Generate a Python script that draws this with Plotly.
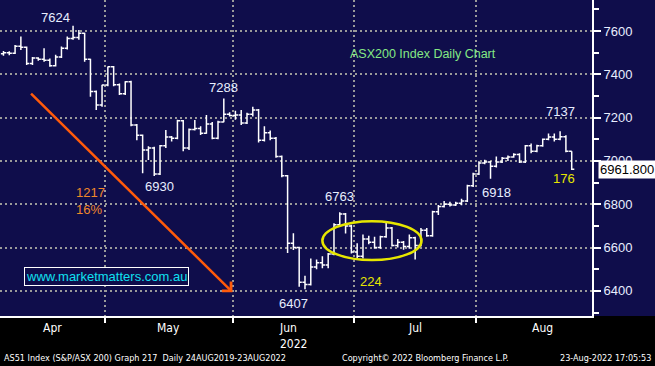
import pandas as pd
import plotly.graph_objects as go

# ---------------- data ----------------
holidays = ["2022-04-15", "2022-04-18", "2022-04-25", "2022-06-13"]
dates = [d for d in pd.bdate_range("2022-04-01", "2022-08-23") if d.strftime("%Y-%m-%d") not in holidays]

open_ = [7495, 7500, 7497, 7530, 7525, 7450, 7475, 7470, 7465, 7440,
         7480, 7520, 7565, 7570, 7589, 7469, 7320, 7258, 7350, 7435,
         7352, 7310, 7365, 7166, 7119, 7050, 7060, 6940, 7070, 7110,
         7105, 7185, 7060, 7145, 7150, 7128, 7170, 7105, 7180, 7215,
         7210, 7212, 7175, 7215, 7235, 7095, 7130, 7105, 7020, 6932,
         6620, 6600, 6440, 6430, 6510, 6530, 6520, 6570, 6705, 6755,
         6700, 6580, 6560, 6640, 6625, 6600, 6650, 6690, 6610, 6625,
         6605, 6645, 6610, 6680, 6655, 6765, 6790, 6800, 6797, 6805,
         6815, 6885, 6940, 6990, 6995, 6975, 6995, 7012, 7018, 7030,
         6995, 7070, 7045, 7070, 7100, 7110, 7100, 7112, 7045]
high = [7508, 7506, 7535, 7574, 7528, 7480, 7479, 7520, 7473, 7490,
        7528, 7574, 7624, 7605, 7592, 7472, 7325, 7352, 7436, 7438,
        7358, 7368, 7370, 7170, 7122, 7068, 7065, 7073, 7143, 7115,
        7190, 7189, 7150, 7189, 7160, 7212, 7180, 7185, 7288, 7225,
        7232, 7235, 7222, 7250, 7240, 7160, 7140, 7110, 7025, 6935,
        6666, 6604, 6470, 6550, 6545, 6560, 6575, 6712, 6763, 6760,
        6705, 6620, 6660, 6655, 6650, 6655, 6715, 6695, 6640, 6630,
        6660, 6650, 6690, 6690, 6770, 6796, 6815, 6812, 6812, 6825,
        6890, 6945, 6998, 7005, 7000, 7020, 7018, 7025, 7035, 7035,
        7073, 7080, 7075, 7104, 7127, 7127, 7137, 7118, 7045]
low = [7486, 7488, 7494, 7512, 7443, 7443, 7462, 7458, 7435, 7436,
       7475, 7515, 7560, 7560, 7458, 7296, 7235, 7250, 7345, 7345,
       7304, 7304, 7160, 7095, 6943, 7004, 6930, 6935, 7060, 7090,
       7100, 7045, 7050, 7140, 7120, 7125, 7100, 7100, 7178, 7205,
       7190, 7166, 7170, 7205, 7085, 7090, 7095, 7015, 6925, 6575,
       6589, 6419, 6407, 6425, 6500, 6505, 6505, 6565, 6700, 6665,
       6573, 6545, 6550, 6615, 6595, 6595, 6645, 6605, 6600, 6590,
       6595, 6545, 6605, 6650, 6650, 6750, 6785, 6790, 6792, 6795,
       6810, 6880, 6935, 6985, 6918, 6970, 6990, 7000, 7015, 6990,
       6990, 7035, 7040, 7065, 7095, 7090, 7095, 7040, 6958]
close = [7500, 7497, 7530, 7525, 7450, 7475, 7470, 7465, 7440, 7480,
         7520, 7565, 7570, 7589, 7469, 7320, 7258, 7350, 7435, 7352,
         7310, 7365, 7166, 7119, 7050, 7060, 6940, 7070, 7110, 7105,
         7185, 7060, 7145, 7150, 7128, 7170, 7105, 7180, 7215, 7210,
         7212, 7175, 7215, 7235, 7095, 7130, 7105, 7020, 6932, 6620,
         6600, 6440, 6430, 6510, 6530, 6520, 6570, 6705, 6755, 6700,
         6580, 6560, 6640, 6625, 6600, 6650, 6690, 6610, 6625, 6605,
         6645, 6610, 6680, 6655, 6765, 6790, 6800, 6797, 6805, 6815,
         6885, 6940, 6990, 6995, 6975, 6995, 7012, 7018, 7030, 6995,
         7070, 7045, 7070, 7100, 7110, 7100, 7112, 7045, 6961.8]

y_ticks = [6400, 6600, 6800, 7000, 7200, 7400, 7600]
y_minor = [6300, 6500, 6700, 6900, 7100, 7300, 7500, 7700]
month_names = ["Apr", "May", "Jun<br>2022", "Jul", "Aug"]

# annotation labels: (text, x index, price, color)
point_labels = [
    ("7624", 9.0, 7660, "#e8eeff"),
    ("7288", 37.9, 7341, "#e8eeff"),
    ("6930", 26.9, 6881, "#e8eeff"),
    ("6763", 57.9, 6838, "#e8eeff"),
    ("6407", 50.0, 6343, "#e8eeff"),
    ("6918", 85.0, 6856, "#e8eeff"),
    ("7137", 96.1, 7230, "#e8eeff"),
    ("224", 63.4, 6445, "#e6e600"),
    ("176", 96.6, 6921, "#e6e600"),
]

# ---------------- derived ----------------
x = list(range(len(dates)))
NAVY = "#0f0d4b"
GRID = "#9a9a9a"
FONT = "Liberation Sans, Arial, sans-serif"
BFONT = "DejaVu Sans Condensed, DejaVu Sans, sans-serif"

# month boundaries and label centres
months = pd.Series([d.month for d in dates])
bounds = [i - 0.5 for i in range(1, len(dates)) if months[i] != months[i - 1]]
starts = [-0.5] + bounds
centers = []
for s, d0 in zip(starts, [dates[0]] + [dates[int(b + 0.5)] for b in bounds]):
    full = [d for d in pd.bdate_range(d0.replace(day=1), d0 + pd.offsets.MonthEnd(0))
            if d.strftime("%Y-%m-%d") not in holidays]
    centers.append(s + len(full) / 2)

x_range = [-0.6, 101.5]
y_range = [6284, 7743]

fig = go.Figure()
fig.add_trace(go.Ohlc(
    x=x, open=open_, high=high, low=low, close=close,
    increasing=dict(line=dict(color="white", width=1.5)),
    decreasing=dict(line=dict(color="white", width=1.5)),
    tickwidth=0.45, hoverinfo="skip", showlegend=False))

# price marker pointer next to axis
fig.add_trace(go.Scatter(
    x=[x_range[1] + 0.75], y=[close[-1]], mode="markers",
    marker=dict(symbol="triangle-left", size=11, color="white"),
    cliponaxis=False, hoverinfo="skip", showlegend=False))

annotations = []
for name, c in zip(month_names, centers):
    annotations.append(dict(text=name, x=c, xref="x", y=0, yref="paper",
                            yanchor="top", yshift=-3, showarrow=False, align="left",
                            font=dict(family=BFONT, size=12, color="white")))

for t, xi, p, col in point_labels:
    annotations.append(dict(text=t, x=xi, y=p, xref="x", yref="y", showarrow=False,
                            font=dict(family=FONT, size=13, color=col)))

annotations += [
    dict(text="1217<br>16%", x=15.0, y=6815, xref="x", yref="y", showarrow=False,
         align="left", font=dict(family=FONT, size=13, color="#f0882a")),
    dict(text="ASX200 Index Daily Chart", x=72.3, y=7494, xref="x", yref="y",
         showarrow=False, font=dict(family=FONT, size=12.5, color="#84e884")),
    dict(text="www.marketmatters.com.au", x=17.7, y=6467, xref="x", yref="y",
         showarrow=False, bordercolor="white", borderwidth=1, borderpad=1,
         bgcolor=NAVY, font=dict(family=FONT, size=13, color="#10e0f0")),
    dict(text="", x=39.5, y=6394, ax=4.5, ay=7318, xref="x", yref="y",
         axref="x", ayref="y", showarrow=True, arrowhead=4, arrowsize=1,
         arrowwidth=2.5, arrowcolor="#ff5a0a", standoff=0),
    dict(text=f"{close[-1]:.3f}", x=1, xref="paper", xanchor="left", xshift=6,
         y=close[-1], yref="y", showarrow=False, bgcolor="white", borderpad=1,
         font=dict(family=FONT, size=13, color="black")),
    # footer
    dict(text="AS51 Index (S&amp;P/ASX 200) Graph 217  Daily 24AUG2019-23AUG2022",
         x=0, xref="paper", xanchor="left", xshift=2, y=-42 / 316, yref="paper",
         yanchor="middle", showarrow=False, font=dict(family=BFONT, size=9, color="white")),
    dict(text="Copyright\u00a9 2022 Bloomberg Finance L.P.",
         x=340 / 592, xref="paper", xanchor="left", y=-42 / 316, yref="paper",
         yanchor="middle", showarrow=False, font=dict(family=BFONT, size=9, color="white")),
    dict(text="23-Aug-2022 17:05:53",
         x=653 / 592, xref="paper", xanchor="right", y=-42 / 316, yref="paper",
         yanchor="middle", showarrow=False, font=dict(family=BFONT, size=9, color="white")),
]

shapes = [
    dict(type="rect", xref="paper", yref="paper", x0=1, x1=1.2, y0=0, y1=1,
         fillcolor=NAVY, line=dict(width=0), layer="below"),
    dict(type="circle", xref="x", yref="y", x0=55.0, x1=72.1, y0=6542, y1=6722,
         line=dict(color="#e6e600", width=2.5)),
]

fig.update_layout(
    width=655, height=366,
    margin=dict(l=0, r=63, t=0, b=50),
    paper_bgcolor="black", plot_bgcolor=NAVY,
    showlegend=False,
    annotations=annotations, shapes=shapes,
    xaxis=dict(range=x_range, showticklabels=False, tickvals=bounds,
               ticks="outside", ticklen=5, tickcolor="white", tickwidth=1.5,
               showgrid=True, gridcolor=GRID, gridwidth=2, griddash="2px,3px",
               showline=True, linecolor="white", linewidth=2, zeroline=False,
               rangeslider=dict(visible=False), fixedrange=True),
    yaxis=dict(side="right", range=y_range, tickvals=y_ticks,
               ticks="outside", ticklen=7, tickwidth=2, tickcolor="white",
               minor=dict(tickvals=y_minor, ticks="outside", ticklen=5,
                          tickcolor="white", tickwidth=1.5, showgrid=False),
               showgrid=True, gridcolor=GRID, gridwidth=2, griddash="2px,3px",
               showline=True, linecolor="white", linewidth=2, zeroline=False,
               tickfont=dict(family=FONT, size=13, color="#e8eeff"), fixedrange=True),
)

fig.write_html("out.html")
